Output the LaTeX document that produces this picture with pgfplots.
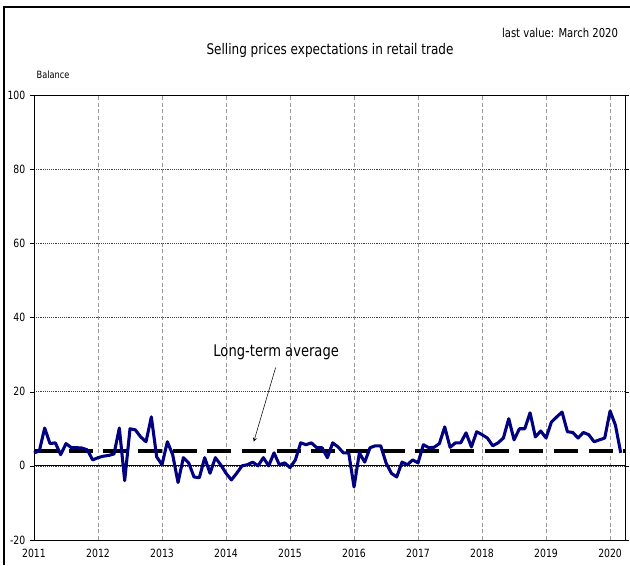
\documentclass[border=0pt]{standalone}
\usepackage{pgfplots}
\pgfplotsset{compat=1.18}
\usepackage{fontspec}
\setmainfont{DejaVu Sans}[FakeStretch=0.82]

% monthly balance, Jan 2011 .. Mar 2020
\pgfplotstableread{
m v
0 3.5
1 4
2 10.2
3 6
4 6.2
5 3
6 6
7 4.9
8 4.9
9 4.8
10 4.3
11 1.6
12 2.2
13 2.6
14 2.8
15 3.2
16 10.2
17 -4
18 10
19 9.7
20 7.8
21 6.5
22 13.2
23 2.4
24 0.3
25 6.5
26 3
27 -4.5
28 2.2
29 0.8
30 -3
31 -3.2
32 2.2
33 -2
34 2.2
35 0.3
36 -2
37 -3.8
38 -2
39 0
40 0.3
41 1
42 0
43 2.2
44 0
45 3.5
46 0.3
47 0.8
48 -0.5
49 1.6
50 6.2
51 5.7
52 6.2
53 4.9
54 4.9
55 2.2
56 6.2
57 5.1
58 3.5
59 3.5
60 -5.7
61 3.5
62 1
63 4.9
64 5.4
65 5.4
66 0.8
67 -2
68 -3
69 1
70 0.3
71 1.6
72 0.8
73 5.7
74 4.9
75 5
76 6
77 10.5
78 5
79 6.2
80 6.2
81 8.9
82 5.1
83 9.2
84 8.4
85 7.5
86 5.4
87 6.2
88 7.5
89 12.7
90 7
91 10
92 10
93 14.3
94 7.8
95 9.4
96 7.5
97 11.8
98 13.2
99 14.5
100 9.2
101 9
102 7.5
103 9
104 8.4
105 6.5
106 7
107 7.5
108 14.8
109 11
110 3.5
}\balance

\definecolor{navyline}{RGB}{0,0,128}

\begin{document}
\begin{tikzpicture}
\path[use as bounding box] (0,0) rectangle (472.5pt,423.75pt);
\draw[black, line width=0.8pt] (3pt,0) -- (3pt,418.5pt) -- (472.5pt,418.5pt);
\node[font=\fontsize{11}{13}\selectfont] at (247.5pt,386pt) {Selling prices expectations in retail trade};
\node[font=\fontsize{9.2}{11}\selectfont, anchor=east] at (467pt,399pt) {last value: March 2020};
\node[font=\fontsize{7.5}{9}\selectfont, anchor=west] at (24pt,368pt) {Balance};
\begin{axis}[
  scale only axis,
  width=443.25pt, height=333.75pt,
  at={(25.5pt,18.75pt)}, anchor=south west,
  xmin=0, xmax=110.8, ymin=-20, ymax=100,
  xtick={0,12,...,108},
  xticklabels={2011,2012,2013,2014,2015,2016,2017,2018,2019,2020},
  ytick={-20,0,20,40,60,80,100},
  tick label style={font=\fontsize{8.5}{10}\selectfont},
  /pgf/number format/assume math mode=true,
  xtick style={draw=none},
  ytick style={black},
  tick align=outside,
  major tick length=3pt,
  xmajorgrids, ymajorgrids,
  major x grid style={gray!80, densely dashed, line width=0.4pt},
  major y grid style={black!75, densely dotted, line width=0.4pt},
  axis line style={black, line width=0.6pt},
  clip=false,
]
\addplot[black, line width=0.6pt, forget plot] coordinates {(0,0) (110.8,0)};
\addplot[black, line width=2.8pt, dash pattern=on 18pt off 8pt] coordinates {(0,4) (110.8,4)};
\addplot[navyline, line width=2.3pt, line join=round] table[x=m, y=v] {\balance};
\node[font=\fontsize{12}{14}\selectfont] at (axis cs:45.4,30.5) {Long-term average};
\draw[-stealth, black, line width=0.4pt] (axis cs:45.3,26.5) -- (axis cs:41.2,6.5);
\end{axis}
\end{tikzpicture}
\end{document}
